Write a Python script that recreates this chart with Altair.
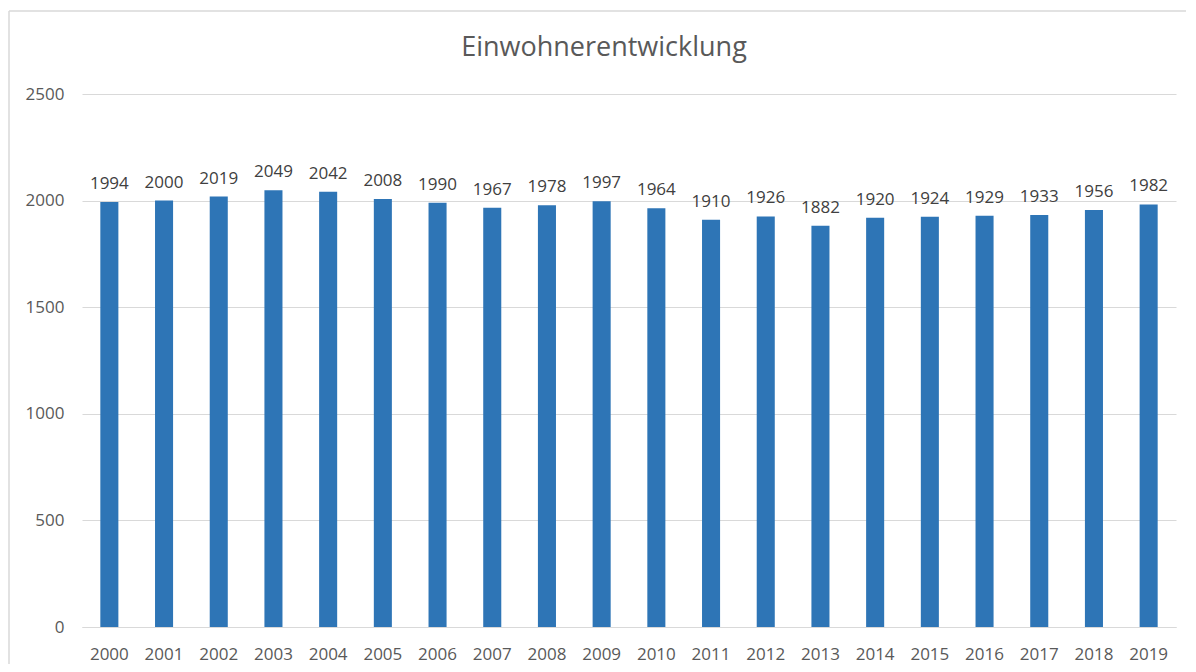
import altair as alt
import pandas as pd

years = [str(y) for y in range(2000, 2020)]
values = [1994, 2000, 2019, 2049, 2042, 2008, 1990, 1967, 1978, 1997,
          1964, 1910, 1926, 1882, 1920, 1924, 1929, 1933, 1956, 1982]
title_text = "Einwohnerentwicklung"
y_ticks = [0, 500, 1000, 1500, 2000, 2500]

df = pd.DataFrame({"Jahr": years, "Einwohner": values})
single = pd.DataFrame({"t": [title_text]})

FONT = "Open Sans"
W, H = 1094, 533

x = alt.X("Jahr:N", sort=years, title=None,
          scale=alt.Scale(paddingInner=0.67, paddingOuter=0.335),
          axis=alt.Axis(labelAngle=0, ticks=False, domain=True, domainColor="#d9d9d9",
                        labelColor="#595959", labelFont=FONT, labelFontSize=17,
                        labelPadding=19, grid=False))
y = alt.Y("Einwohner:Q", title=None,
          scale=alt.Scale(domain=[0, 2500], nice=False),
          axis=alt.Axis(values=y_ticks, format="d", ticks=False, domain=False, grid=True,
                        gridColor="#d9d9d9", labelColor="#595959", labelFont=FONT,
                        labelFontSize=17, labelPadding=18))

frame_top = alt.Chart(single).mark_rule(stroke="#d9d9d9", strokeWidth=1.5, clip=False).encode(
    x=alt.value(-73), x2=alt.value(W + 200), y=alt.value(-83)
)
frame_left = alt.Chart(single).mark_rule(stroke="#d9d9d9", strokeWidth=1.5, clip=False).encode(
    x=alt.value(-73), y=alt.value(-83), y2=alt.value(H + 200)
)

title = alt.Chart(single).mark_text(font=FONT, fontSize=27, color="#595959",
                                    baseline="middle", align="center").encode(
    x=alt.value(522), y=alt.value(-46), text="t:N"
)

bars = alt.Chart(df).mark_bar(color="#2e75b6").encode(x=x, y=y)

labels = alt.Chart(df).mark_text(baseline="bottom", dy=-9, font=FONT, fontSize=17,
                                 color="#404040").encode(
    x=alt.X("Jahr:N", sort=years), y="Einwohner:Q", text="Einwohner:Q"
)

chart = alt.layer(frame_top, frame_left, title, bars, labels).properties(
    width=W, height=H,
    autosize=alt.AutoSizeParams(type="none"),
    padding={"left": 74, "top": 86, "right": 10, "bottom": 37},
    background="white",
).configure_view(stroke=None)

chart.save("out.html", embed_options={"renderer": "svg", "actions": False})
